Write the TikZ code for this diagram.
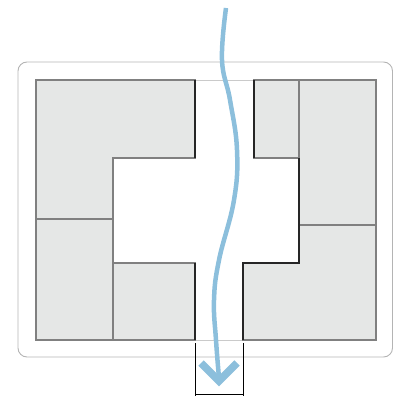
\documentclass[tikz,border=0pt]{standalone}
\usepackage{xcolor}
\usepackage{tikz}
\definecolor{blockgray}{HTML}{E5E7E6}
\definecolor{edgegray}{HTML}{808080}
\definecolor{framegray}{HTML}{B4B4B4}
\definecolor{pathblue}{HTML}{8CBFDC}

\begin{document}
\begin{tikzpicture}[x=1pt, y=-1pt, line join=miter]
\tikzstyle{block}=[fill=blockgray, draw=edgegray, line width=1.4pt]
\tikzstyle{wall}=[draw=black!85, line width=1.8pt]
\useasboundingbox (0,0) rectangle (393,398);
% outer tray and inner frame
\draw[framegray, line width=0.9pt, rounded corners=9pt] (18,62) rectangle (392.5,357);
\draw[framegray!70, line width=0.9pt] (195,80) -- (254,80);
\draw[framegray!70, line width=0.9pt] (195,340) -- (243,340);
% left blocks
\draw[block] (36,80) -- (195,80) -- (195,158) -- (113,158) -- (113,219) -- (36,219) -- cycle;
\draw[block] (36,219) rectangle (113,340);
\draw[block] (113,263) rectangle (195,340);
% right blocks
\draw[block] (254,80) rectangle (299,158);
\draw[block] (299,80) rectangle (376,225);
\draw[block] (243,263) -- (299,263) -- (299,225) -- (376,225) -- (376,340) -- (243,340) -- cycle;
% corridor walls
\draw[wall] (195,80) -- (195,158);
\draw[wall] (195,263) -- (195,340);
\draw[wall] (254,80) -- (254,158);
\draw[wall] (299,158) -- (299,263) -- (243,263) -- (243,340);
% opening width
\draw[black, line width=0.8pt] (195,343) -- (195,396) (243,343) -- (243,396) (195,394) -- (243,394);
% path through the corridor
\draw[pathblue, line width=4.5pt] plot[smooth, tension=0.7] coordinates {(226,8) (222,60) (230,100) (237,150) (234,200) (219,260) (214,300) (216,340) (219,378)};
\draw[pathblue, line width=7.5pt] (201,363) -- (219,381) -- (237,363);
\end{tikzpicture}
\end{document}
